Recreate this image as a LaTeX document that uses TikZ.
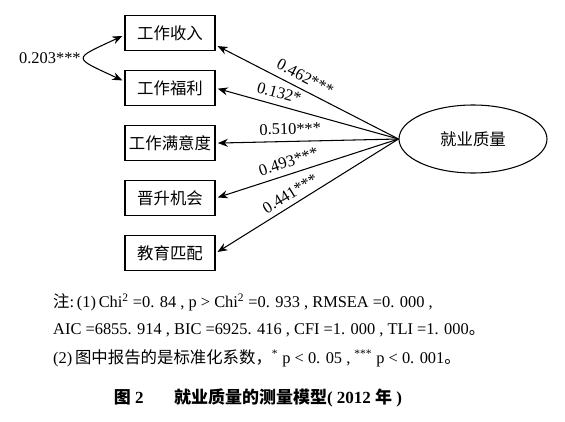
\documentclass[tikz,border=0pt]{standalone}
\usepackage{fontspec}
\setmainfont{Liberation Serif}
\newfontfamily\cjk{Noto Sans CJK SC}
\usetikzlibrary{arrows.meta, positioning, shapes.geometric}

\begin{document}
\begin{tikzpicture}[
	x=0.03cm, y=0.03cm,
	node distance=0.57cm,
	box/.style={draw, line width=0.9pt, align=center, minimum width=2.7cm, minimum height=1.05cm, font=\cjk\fontsize{14}{16}\selectfont},
	latent/.style={draw, ellipse, line width=0.9pt, minimum width=4.44cm, minimum height=2.04cm, font=\cjk\fontsize{14}{16}\selectfont},
	arrow/.style={-{Stealth[length=3mm, width=2.4mm]}, line width=0.9pt, shorten >=2pt},
	coef/.style={sloped, above=2pt, font=\fontsize{14}{16}\selectfont},
	note/.style={anchor=west, inner sep=0pt, font=\fontsize{14}{16}\selectfont}
]
\useasboundingbox (0,0) rectangle (565,-421);

\node[box] (inc) at (170,-33) {工作收入};
\node[box, below=of inc] (wel) {工作福利};
\node[box, below=of wel] (sat) {工作满意度};
\node[box, below=of sat] (pro) {晋升机会};
\node[box, below=of pro] (mat) {教育匹配};
\node[latent] (q) at (473,-139) {就业质量};

\draw[arrow] (q.west) -- node[coef, pos=0.54] {0.462***} ([yshift=-0.36cm]inc.east);
\draw[arrow] (q.west) -- node[coef, pos=0.67] {0.132*} (wel.east);
\draw[arrow] (q.west) -- node[coef, pos=0.59] {0.510***} (sat.east);
\draw[arrow] (q.west) -- node[coef, pos=0.58] {0.493***} (pro.east);
\draw[arrow] (q.west) -- node[coef, pos=0.56, above=1pt] {0.441***} (mat.east);

% covariance
\draw[{Stealth[length=3mm, width=2.4mm]}-{Stealth[length=3mm, width=2.4mm]}, line width=0.9pt, shorten <=2pt, shorten >=2pt]
	([yshift=-0.06cm]inc.west) to[out=205, in=155, looseness=3.2]
	node[left, font=\fontsize{14}{16}\selectfont] {0.203***} ([yshift=0.2cm]wel.west);

% notes
\node[note] (n1) at (53,-302) {{\cjk 注}:\,(1)\,Chi\textsuperscript{2} =0. 84 , p > Chi\textsuperscript{2} =0. 933 , RMSEA =0. 000 ,};
\node[note] (n2) at (53,-330) {AIC =6855. 914 , BIC =6925. 416 , CFI =1. 000 , TLI =1. 000{\cjk 。}};
\node[note] (n3) at (53,-358) {(2)\,{\cjk 图中报告的是标准化系数，}\textsuperscript{*} p < 0. 05 , \textsuperscript{***} p < 0. 001{\cjk 。}};
\node[font=\bfseries\fontsize{14.5}{16}\selectfont] (cap) at (258,-398) {{\cjk 图} 2\hspace{1.8em}{\cjk 就业质量的测量模型}( 2012 {\cjk 年} )};
\end{tikzpicture}
\end{document}
